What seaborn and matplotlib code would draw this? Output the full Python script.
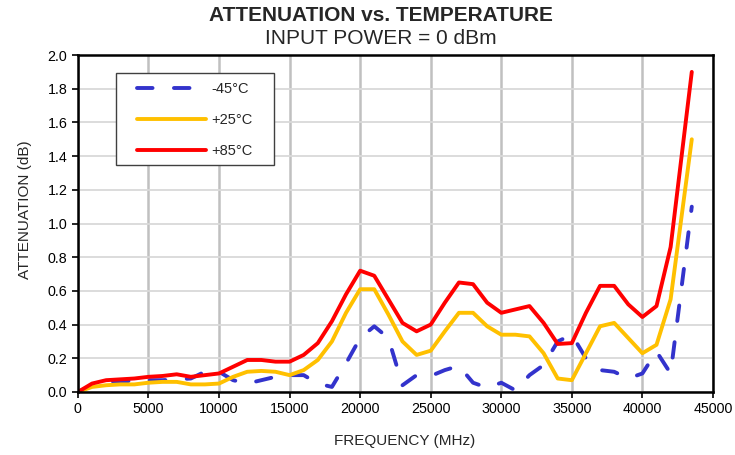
import pandas as pd
import matplotlib
matplotlib.use('Agg')
import matplotlib.pyplot as plt
import seaborn as sns
from matplotlib.patches import Rectangle

# Frequency points (MHz)
freq = [0, 1000, 2000, 3000, 4000, 5000, 6000, 7000, 8000, 9000,
        10000, 11000, 12000, 13000, 14000, 15000, 16000, 17000, 18000, 19000,
        20000, 21000, 22000, 23000, 24000, 25000, 26000, 27000, 28000, 29000,
        30000, 31000, 32000, 33000, 34000, 35000, 36000, 37000, 38000, 39000,
        40000, 41000, 42000, 43500]

# Attenuation (dB) per temperature
att_m45 = [0.00, 0.04, 0.06, 0.065, 0.065, 0.07, 0.07, 0.075, 0.08, 0.12,
           0.12, 0.07, 0.05, 0.07, 0.09, 0.10, 0.10, 0.05, 0.03, 0.17,
           0.32, 0.39, 0.32, 0.04, 0.10, 0.095, 0.13, 0.155, 0.055, 0.025,
           0.055, 0.01, 0.10, 0.16, 0.30, 0.34, 0.20, 0.13, 0.12, 0.08,
           0.11, 0.24, 0.11, 1.10]
att_p25 = [0.00, 0.03, 0.04, 0.045, 0.045, 0.055, 0.06, 0.06, 0.045, 0.045,
           0.05, 0.09, 0.12, 0.125, 0.12, 0.10, 0.13, 0.19, 0.30, 0.47,
           0.61, 0.61, 0.46, 0.30, 0.22, 0.245, 0.36, 0.47, 0.47, 0.39,
           0.34, 0.34, 0.33, 0.23, 0.08, 0.07, 0.23, 0.39, 0.41, 0.32,
           0.23, 0.28, 0.55, 1.50]
att_p85 = [0.00, 0.05, 0.07, 0.075, 0.08, 0.09, 0.095, 0.105, 0.09, 0.10,
           0.11, 0.15, 0.19, 0.19, 0.18, 0.18, 0.22, 0.29, 0.42, 0.58,
           0.72, 0.69, 0.55, 0.41, 0.36, 0.40, 0.53, 0.65, 0.64, 0.53,
           0.47, 0.49, 0.51, 0.41, 0.285, 0.29, 0.47, 0.63, 0.63, 0.52,
           0.445, 0.51, 0.86, 1.90]

labels = ['-45°C', '+25°C', '+85°C']
colors = {'-45°C': '#3333CC', '+25°C': '#FFC000', '+85°C': '#FF0000'}

df = pd.concat([
    pd.DataFrame({'Frequency': freq, 'Attenuation': v, 'Temp': lab})
    for v, lab in zip([att_m45, att_p25, att_p85], labels)
])

sns.set_style('white')
plt.rcParams['font.family'] = ['Liberation Sans', 'DejaVu Sans']

fig = plt.figure(figsize=(7.35, 4.55), dpi=100)
ax = fig.add_axes([0.106, 0.1385, 0.864, 0.7405])

sns.lineplot(data=df, x='Frequency', y='Attenuation', hue='Temp', style='Temp',
             hue_order=labels, style_order=labels, palette=colors,
             dashes={'-45°C': (4.0, 5.5), '+25°C': '', '+85°C': ''},
             linewidth=2.8, ax=ax, sort=False)
for line in ax.get_lines():
    line.set_dash_capstyle('round')
    line.set_solid_capstyle('round')

ax.set_xlim(0, 45000)
ax.set_ylim(0, 2.0)
ax.set_xticks(range(0, 45001, 5000))
ax.set_yticks([i / 10 for i in range(0, 21, 2)])
ax.set_yticklabels([f'{i / 10:.1f}' for i in range(0, 21, 2)])

ax.xaxis.grid(True, color='#c0c0c0', linewidth=1.8)
ax.yaxis.grid(True, color='#d9d9d9', linewidth=1.3)
ax.set_axisbelow(True)
for s in ax.spines.values():
    s.set_color('black')
    s.set_linewidth(1.8)
ax.tick_params(direction='out', length=4, width=1.2, color='black',
               labelsize=10.3, labelcolor='black', bottom=True, left=True)

ax.set_xlabel('FREQUENCY (MHz)', fontsize=11)
ax.set_ylabel('ATTENUATION (dB)', fontsize=11)
ax.xaxis.set_label_coords(0.515, -0.125)
ax.yaxis.set_label_coords(-0.072, 0.54)

# legend box drawn separately so the padding matches
ax.add_patch(Rectangle((0.06, 0.674), 0.249, 0.273, transform=ax.transAxes,
                       facecolor='white', edgecolor='#404040', linewidth=1.0,
                       zorder=4))
leg = ax.legend(loc='upper left', bbox_to_anchor=(0.093, 0.919), fontsize=10.5,
                frameon=False, handlelength=4.7, labelspacing=1.15,
                borderpad=0, handletextpad=0.4, borderaxespad=0)
leg.set_zorder(5)
for h in leg.get_lines():
    h.set_linewidth(2.8)
    h.set_dash_capstyle('round')

fig.text(0.518, 0.967, 'ATTENUATION vs. TEMPERATURE', ha='center', va='center',
         fontsize=15, fontweight='bold')
fig.text(0.518, 0.915, 'INPUT POWER = 0 dBm', ha='center', va='center',
         fontsize=15)

fig.savefig('out.png', dpi=100)
